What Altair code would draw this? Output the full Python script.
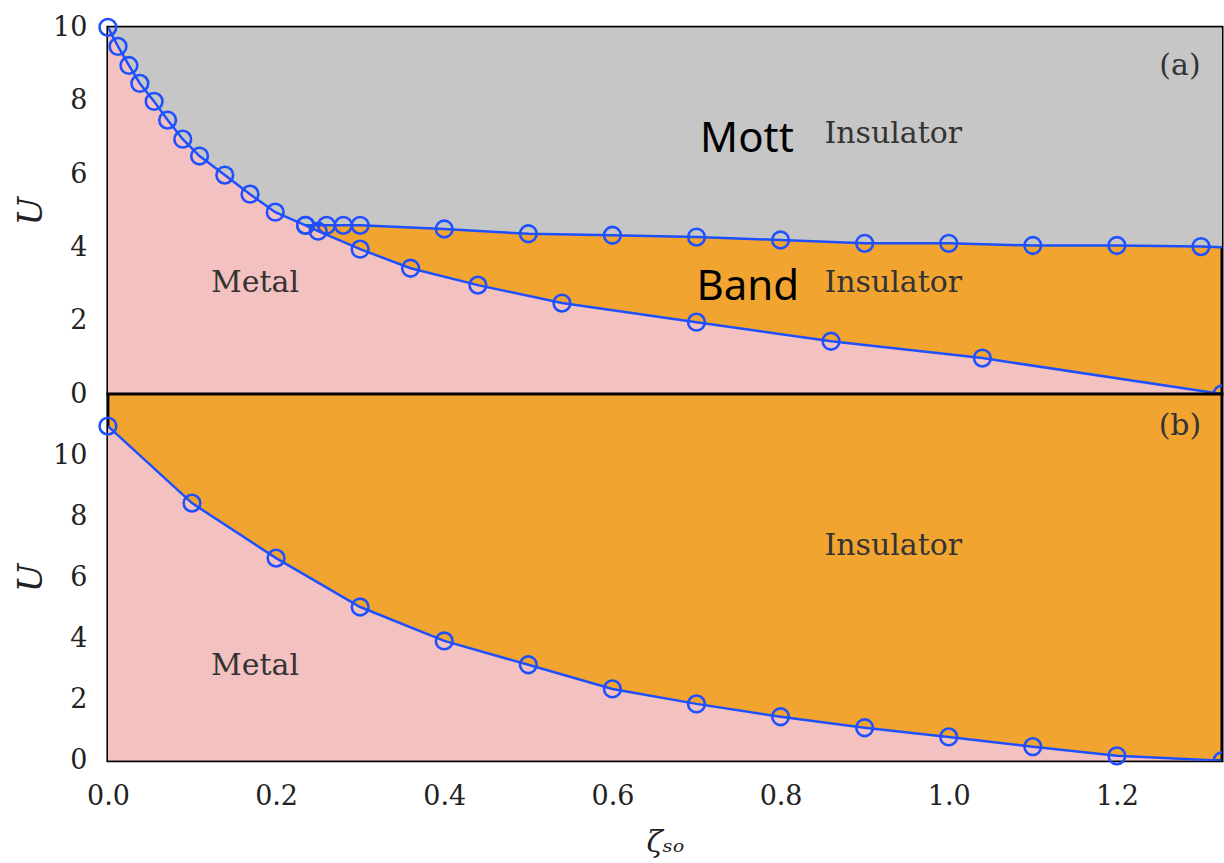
import altair as alt
import pandas as pd

# ---- data ----
# panel (a): Mott boundary (metal / Mott, then Mott / band insulator)
mott_x = [0.0, 0.012, 0.025, 0.038, 0.055, 0.071, 0.089, 0.109, 0.139, 0.169, 0.199,
          0.235, 0.26, 0.28, 0.3, 0.4, 0.5, 0.6, 0.7, 0.8, 0.9, 1.0, 1.1, 1.2, 1.3, 1.325]
mott_u = [10.0, 9.48, 8.96, 8.47, 7.98, 7.47, 6.95, 6.49, 5.97, 5.45, 4.96,
          4.6, 4.6, 4.6, 4.6, 4.5, 4.37, 4.33, 4.28, 4.2, 4.11, 4.11, 4.05, 4.05, 4.02, 4.0]
mott_marker = [True] * 25 + [False]

# panel (a): metal / band insulator boundary
band_x = [0.235, 0.25, 0.3, 0.36, 0.44, 0.54, 0.7, 0.86, 1.04, 1.325]
band_u = [4.6, 4.44, 3.95, 3.43, 2.97, 2.48, 1.96, 1.44, 0.98, 0.0]

# panel (b): metal / insulator boundary
b_x = [0.0, 0.1, 0.2, 0.3, 0.4, 0.5, 0.6, 0.7, 0.8, 0.9, 1.0, 1.1, 1.2, 1.325]
b_u = [10.95, 8.43, 6.63, 5.03, 3.92, 3.14, 2.35, 1.86, 1.44, 1.08, 0.78, 0.46, 0.16, 0.0]

# annotations
a_serif_text = ["Insulator", "Insulator", "Metal", "(a)"]
a_serif_x = [0.934, 0.934, 0.175, 1.275]
a_serif_u = [7.08, 3.02, 3.02, 8.94]
a_sans_text = ["Mott", "Band"]
a_sans_x = [0.76, 0.761]
a_sans_u = [6.95, 2.92]

b_serif_text = ["Insulator", "Metal", "(b)"]
b_serif_x = [0.934, 0.175, 1.275]
b_serif_u = [7.03, 3.11, 10.95]

x_ticks = [0.0, 0.2, 0.4, 0.6, 0.8, 1.0, 1.2]
y_ticks = [0, 2, 4, 6, 8, 10]

# ---- style ----
BLUE = "#1f50ff"
GRAY = "#c6c6c6"
ORANGE = "#f2a431"
PINK = "#f4c1c1"
SERIF = "DejaVu Serif"
W, H = 1115, 367
XMAX = 1.325

xscale = alt.Scale(domain=[0, XMAX], nice=False, zero=False)
ya_scale = alt.Scale(domain=[0, 10], nice=False)
yb_scale = alt.Scale(domain=[0, 12], nice=False)

yaxis = alt.Axis(values=y_ticks, title="U", titleFont=SERIF, titleFontStyle="italic",
                 titleFontWeight="normal", titleFontSize=34, titlePadding=4,
                 labelFont=SERIF, labelFontSize=27, labelPadding=21, labelColor="#222",
                 ticks=False, tickSize=0, domain=False, grid=False, titleColor="#222")
xaxis_b = alt.Axis(values=x_ticks, format=".1f", title="ζₛₒ", titleFont=SERIF,
                   titleFontStyle="italic", titleFontWeight="normal", titleFontSize=30,
                   titlePadding=18, labelFont=SERIF, labelFontSize=27, labelPadding=23,
                   labelColor="#222", labelFlush=False, ticks=False, tickSize=0,
                   domain=False, grid=False, titleColor="#222")


def xenc(show):
    return alt.X("x:Q", scale=xscale, axis=xaxis_b if show else None)


def yenc(scale):
    return alt.Y("u:Q", scale=scale, axis=yaxis)


mott = pd.DataFrame({"x": mott_x, "u": mott_u, "m": mott_marker})
band = pd.DataFrame({"x": band_x, "u": band_u})
metal_a = pd.DataFrame({
    "x": [x for x in mott_x if x < band_x[0]] + band_x,
    "u": [u for x, u in zip(mott_x, mott_u) if x < band_x[0]] + band_u,
})
bdf = pd.DataFrame({"x": b_x, "u": b_u})

a_serif = pd.DataFrame({"t": a_serif_text, "x": a_serif_x, "u": a_serif_u})
a_sans = pd.DataFrame({"t": a_sans_text, "x": a_sans_x, "u": a_sans_u})
b_serif = pd.DataFrame({"t": b_serif_text, "x": b_serif_x, "u": b_serif_u})


def line_layers(df, scale, show, filt=False):
    ln = alt.Chart(df).mark_line(color=BLUE, strokeWidth=2.5, clip=True).encode(
        x=xenc(show), y=yenc(scale))
    pt_kw = dict(shape="circle", filled=False, size=280, strokeWidth=2.6, color=BLUE, opacity=1)
    # markers inside the frame may spill over its edge; the ones on the right edge are cut
    pt_in = alt.Chart(df).mark_point(**pt_kw).encode(x=xenc(show), y=yenc(scale))
    pt_edge = alt.Chart(df).mark_point(clip=True, **pt_kw).encode(x=xenc(show), y=yenc(scale))
    cond_in = f"datum.x < {XMAX}"
    cond_edge = f"datum.x >= {XMAX}"
    if filt:
        cond_in += " && datum.m"
        cond_edge += " && datum.m"
    return [ln, pt_in.transform_filter(cond_in), pt_edge.transform_filter(cond_edge)]


def text_layer(df, scale, show, font, size, color):
    return alt.Chart(df).mark_text(font=font, fontSize=size, color=color, align="center",
                                   baseline="middle").encode(
        x=xenc(show), y=yenc(scale), text="t:N")


# panel (a)
gray_a = alt.Chart(mott).mark_area(color=GRAY, opacity=1, clip=True).encode(
    x=xenc(False), y=yenc(ya_scale), y2=alt.datum(10))
pink_a = alt.Chart(metal_a).mark_area(color=PINK, opacity=1, clip=True).encode(
    x=xenc(False), y=yenc(ya_scale), y2=alt.datum(0))

top = alt.layer(
    gray_a, pink_a,
    *line_layers(mott, ya_scale, False, filt=True),
    *line_layers(band, ya_scale, False),
    text_layer(a_serif, ya_scale, False, SERIF, 30, "#333"),
    text_layer(a_sans, ya_scale, False, "Noto Sans", 42, "black"),
).properties(width=W, height=H)

# panel (b)
pink_b = alt.Chart(bdf).mark_area(color=PINK, opacity=1, clip=True).encode(
    x=xenc(True), y=yenc(yb_scale), y2=alt.datum(0))
bottom = alt.layer(
    pink_b,
    *line_layers(bdf, yb_scale, True),
    text_layer(b_serif, yb_scale, True, SERIF, 30, "#333"),
).properties(width=W, height=H)

chart = alt.vconcat(top, bottom, spacing=0, bounds="flush").properties(
    padding={"left": 13, "top": 11, "right": 0, "bottom": 0},
    background="white",
).configure_view(fill=ORANGE, stroke="black", strokeWidth=3)

chart.save("out.html", embed_options={"renderer": "svg", "actions": False})
